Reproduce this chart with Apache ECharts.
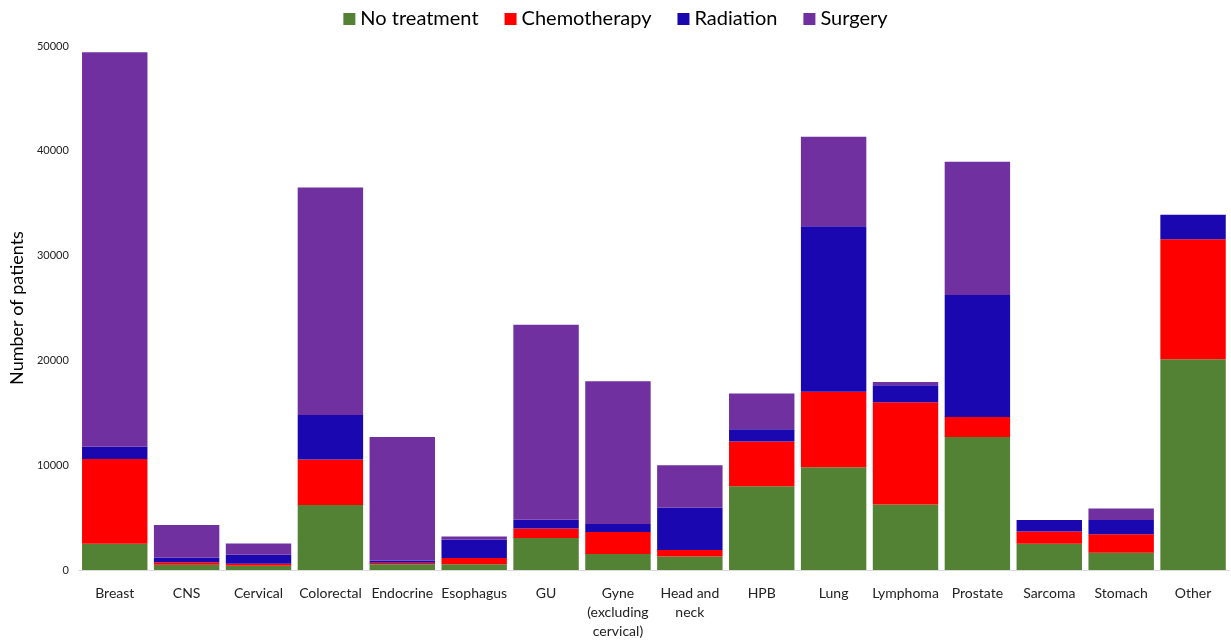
<!DOCTYPE html>
<html><head><meta charset="utf-8">
<script src="https://cdn.jsdelivr.net/npm/echarts@6/dist/echarts.min.js"></script>
<style>html,body{margin:0;padding:0;background:#fff}#c{width:1231px;height:641px}</style>
</head><body><div id="c"></div>
<script>
const categories = ['Breast','CNS','Cervical','Colorectal','Endocrine','Esophagus','GU','Gyne\n(excluding\ncervical)','Head and\nneck','HPB','Lung','Lymphoma','Prostate','Sarcoma','Stomach','Other'];
const noTreatment  = [2500, 500, 400, 6200, 550, 550, 3050, 1520, 1300, 8000, 9800, 6250, 12700, 2500, 1650, 20100];
const chemotherapy = [8100, 250, 200, 4350, 150, 600, 920, 2100, 600, 4250, 7200, 9750, 1900, 1180, 1770, 11450];
const radiation    = [1150, 450, 850, 4250, 200, 1750, 830, 760, 4060, 1180, 15800, 1630, 11650, 1080, 1350, 2350];
const surgery      = [37650, 3100, 1080, 21700, 11800, 300, 18600, 13620, 4030, 3400, 8530, 300, 12700, 0, 1090, 0];
const seriesNames = ['No treatment','Chemotherapy','Radiation','Surgery'];
const colors = ['#548235','#FF0000','#1A07B0','#7030A0'];
const yTicks = [0, 10000, 20000, 30000, 40000, 50000];

const font = 'Lato, "Open Sans", sans-serif';
const chart = echarts.init(document.getElementById('c'));
const data = [noTreatment, chemotherapy, radiation, surgery];
chart.setOption({
  animation: false,
  color: colors,
  legend: {
    top: 4, left: 'center',
    itemWidth: 12, itemHeight: 12, itemGap: 26,
    icon: 'rect',
    textStyle: {fontFamily: font, fontSize: 20, color: '#000'},
    data: seriesNames
  },
  grid: {left: 78, right: 2, top: 46, bottom: 67},
  xAxis: {
    type: 'category', data: categories,
    axisLine: {lineStyle: {color: '#d9d9d9'}},
    axisTick: {show: false},
    axisLabel: {interval: 0, fontFamily: font, fontSize: 14, color: '#222', margin: 14, lineHeight: 19}
  },
  yAxis: {
    type: 'value', min: yTicks[0], max: yTicks[yTicks.length-1], interval: 10000,
    name: 'Number of patients', nameLocation: 'middle', nameGap: 50,
    nameTextStyle: {fontFamily: font, fontSize: 18, color: '#000'},
    splitLine: {show: false},
    axisLine: {show: false}, axisTick: {show: false},
    axisLabel: {fontFamily: font, fontSize: 11, color: '#222', margin: 10, formatter: v => String(v)}
  },
  series: seriesNames.map((n, i) => ({
    name: n, type: 'bar', stack: 'total', data: data[i],
    barCategoryGap: '9%',
    itemStyle: {color: colors[i]}
  }))
});
</script></body></html>
